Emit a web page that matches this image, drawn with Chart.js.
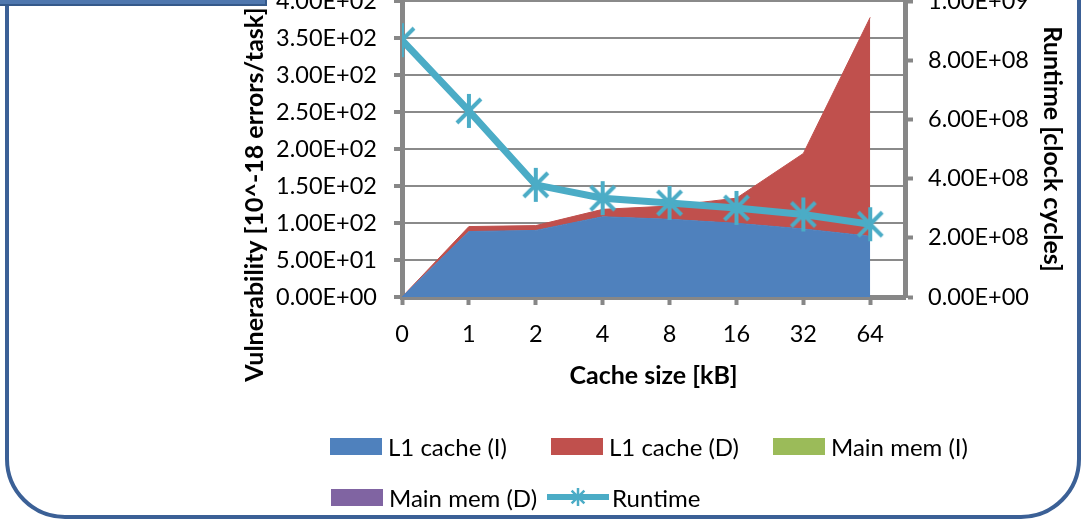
<!DOCTYPE html>
<html><head><meta charset="utf-8">
<script src="https://cdn.jsdelivr.net/npm/chart.js@4.4.0/dist/chart.umd.min.js"></script>
<style>
html,body{margin:0;padding:0;background:#fff;width:1082px;height:522px;overflow:hidden;position:relative;font-family:Lato,sans-serif}
#frame{position:absolute;left:5px;top:-100px;width:1068px;height:611px;border:4px solid #3b6096;border-radius:60px}
#tbox{position:absolute;left:-10px;top:-40px;width:273px;height:42px;background:#4f77ae;border:2px solid #35598a}
#wrap{position:absolute;left:0;top:-30px;width:1082px;height:552px}
#legend{position:absolute;left:0;top:0;width:1082px;height:522px;pointer-events:none}
.lg{position:absolute;height:26px;display:flex;align-items:center;font-size:24px;color:#000;white-space:nowrap}
.sw{display:inline-block;width:52px;height:17px;margin-right:6px}
.ln{display:inline-block;width:62px;height:26px;margin-right:3px;position:relative}
</style></head>
<body>
<div id="frame"></div>
<div id="tbox"></div>
<div id="wrap"><canvas id="c" width="1082" height="552"></canvas></div>
<div id="legend"></div>
<script>
// ---- data ----
const categories = ['0', '1', '2', '4', '8', '16', '32', '64'];
const seriesNames = ['L1 cache (I)', 'L1 cache (D)', 'Main mem (I)', 'Main mem (D)', 'Runtime'];
const l1CacheI = [0, 88.5, 90, 108.5, 105, 99.6, 92, 82];
const l1CacheD = [0, 6.7, 6.5, 10, 18, 34, 102, 296];
const mainMemI = [0, 0, 0, 0, 0, 0, 0, 0];
const mainMemD = [0, 0, 0, 0, 0, 0, 0, 0];
const runtime = [8.68e8, 6.29e8, 3.79e8, 3.34e8, 3.18e8, 3.01e8, 2.79e8, 2.46e8];
const leftTicks = [0, 50, 100, 150, 200, 250, 300, 350, 400];
const rightTicks = [0, 2e8, 4e8, 6e8, 8e8, 1e9];
const xTitle = 'Cache size [kB]';
const yTitle = 'Vulnerability [10^-18 errors/task]';
const y1Title = 'Runtime [clock cycles]';

// ---- styles ----
const colors = ['#4f81bd', '#c0504d', '#9bbb59', '#8064a2', '#4bacc6'];
const GRID = '#8a8a8a';
const AXIS = '#878787';
const TICK_FONT = 23.5;
const TITLE_FONT = 25;

function sci(v) {
  const s = Number(v).toExponential(2).split('e');
  const sign = s[1][0] === '-' ? '-' : '+';
  let e = s[1].replace(/^[+-]/, '');
  if (e.length < 2) e = '0' + e;
  return s[0] + 'E' + sign + e;
}
function makeStar(size, color, lw) {
  const c = document.createElement('canvas');
  c.width = c.height = size;
  const g = c.getContext('2d');
  g.strokeStyle = color; g.lineWidth = lw; g.lineCap = 'butt';
  const m = size / 2, r = size / 2 - 1;
  g.beginPath();
  g.moveTo(m, m - r); g.lineTo(m, m + r);
  const a = Math.PI / 4;
  g.moveTo(m - r * Math.sin(a), m - r * Math.cos(a)); g.lineTo(m + r * Math.sin(a), m + r * Math.cos(a));
  g.moveTo(m + r * Math.sin(a), m - r * Math.cos(a)); g.lineTo(m - r * Math.sin(a), m + r * Math.cos(a));
  g.stroke();
  return c;
}
const star = makeStar(36, '#4bacc6', 4);

const toXY = arr => arr.map((v, i) => ({x: i, y: v}));
const areaSets = [l1CacheI, l1CacheD, mainMemI, mainMemD].map((arr, k) => ({
  type: 'line',
  label: seriesNames[k],
  data: toXY(arr),
  yAxisID: 'y',
  backgroundColor: colors[k],
  borderColor: colors[k],
  borderWidth: k < 2 ? 1 : 0,
  fill: k === 0 ? 'origin' : '-1',
  pointRadius: 0,
  tension: 0,
  order: 1
}));
const runtimeSet = {
  type: 'line',
  label: seriesNames[4],
  data: toXY(runtime),
  yAxisID: 'y1',
  borderColor: colors[4],
  backgroundColor: colors[4],
  borderWidth: 7,
  fill: false,
  pointStyle: star,
  pointRadius: 18,
  tension: 0,
  order: 0
};

Chart.defaults.font.family = 'Lato';
Chart.defaults.color = '#000';

new Chart(document.getElementById('c'), {
  type: 'line',
  data: {datasets: [runtimeSet, ...areaSets]},
  options: {
    responsive: false,
    animation: false,
    events: [],
    layout: {padding: {top: 27, left: 0, right: 0, bottom: 125}},
    plugins: {legend: {display: false}, tooltip: {enabled: false}},
    scales: {
      x: {
        type: 'linear', position: 'bottom', min: 0, max: 7.52,
        afterBuildTicks: s => { s.ticks = categories.map((c, i) => ({value: i})); },
        afterFit: s => { s.height = 100; },
        ticks: {callback: v => categories[v], font: {size: TICK_FONT}, padding: 15, maxRotation: 0, autoSkip: false, color: '#000'},
        grid: {drawOnChartArea: false, drawTicks: true, tickLength: 8, tickWidth: 4, color: AXIS},
        border: {display: true, width: 5, color: AXIS},
        title: {display: true, text: xTitle, font: {size: TITLE_FONT, weight: 'bold'}, color: '#000', padding: {top: 0, bottom: 6}}
      },
      y: {
        type: 'linear', position: 'left', stacked: true, min: 0, max: 400,
        afterBuildTicks: s => { s.ticks = leftTicks.map(v => ({value: v})); },
        afterFit: s => { s.width = 402; },
        ticks: {callback: v => sci(v), font: {size: TICK_FONT}, padding: 17, color: '#000'},
        grid: {color: GRID, lineWidth: 2, tickLength: 8, tickWidth: 4, tickColor: AXIS},
        border: {display: true, width: 5, color: AXIS},
        title: {display: true, text: yTitle + ' '.repeat(15), font: {size: TITLE_FONT, weight: 'bold'}, color: '#000', padding: {top: 240, bottom: 0}}
      },
      y1: {
        type: 'linear', position: 'right', min: 0, max: 1e9,
        afterBuildTicks: s => { s.ticks = rightTicks.map(v => ({value: v})); },
        afterFit: s => { s.width = 177; },
        ticks: {callback: v => sci(v), font: {size: TICK_FONT}, padding: 15, color: '#000'},
        grid: {drawOnChartArea: false, tickLength: 8, tickWidth: 4, color: AXIS},
        border: {display: true, width: 5, color: AXIS},
        title: {display: true, text: y1Title, font: {size: TITLE_FONT, weight: 'bold'}, color: '#000', padding: {top: 15, bottom: 0}}
      }
    }
  }
});

// ---- legend (HTML) ----
const legendLayout = [
  {x: 330, y: 433}, {x: 551, y: 433}, {x: 773, y: 433},
  {x: 331, y: 484}, {x: 547, y: 484}
];
const lgRoot = document.getElementById('legend');
seriesNames.forEach((name, k) => {
  const d = document.createElement('div');
  d.className = 'lg';
  d.style.left = legendLayout[k].x + 'px';
  d.style.top = legendLayout[k].y + 'px';
  if (k < 4) {
    const sw = document.createElement('span');
    sw.className = 'sw'; sw.style.background = colors[k];
    d.appendChild(sw);
  } else {
    const ln = document.createElement('span');
    ln.className = 'ln';
    const bar = document.createElement('span');
    bar.style.cssText = 'position:absolute;left:0;top:10px;width:62px;height:6px;background:' + colors[4];
    ln.appendChild(bar);
    const st = makeStar(20, '#4bacc6', 2.5);
    st.style.cssText = 'position:absolute;left:21px;top:3px';
    ln.appendChild(st);
    d.appendChild(ln);
  }
  d.appendChild(document.createTextNode(name));
  lgRoot.appendChild(d);
});
</script>
</body></html>
